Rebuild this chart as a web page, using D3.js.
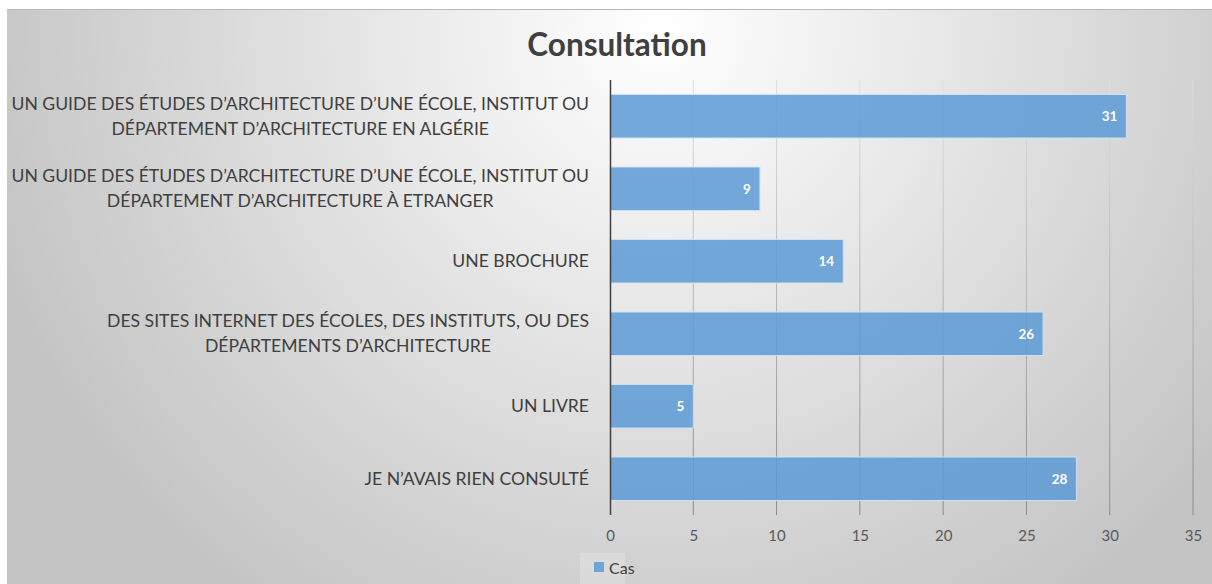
<!DOCTYPE html>
<html>
<head>
<meta charset="utf-8">
<script src="https://cdn.jsdelivr.net/npm/d3@7"></script>
<style>
  body { margin: 0; background: #fff; }
  text { font-family: Lato, "Open Sans", sans-serif; }
</style>
</head>
<body>
<script>
// data, top to bottom
var categories = [
  ["UN GUIDE DES ÉTUDES D’ARCHITECTURE D’UNE ÉCOLE, INSTITUT OU", "DÉPARTEMENT D’ARCHITECTURE EN ALGÉRIE"],
  ["UN GUIDE DES ÉTUDES D’ARCHITECTURE D’UNE ÉCOLE, INSTITUT OU", "DÉPARTEMENT D’ARCHITECTURE À ETRANGER"],
  ["UNE BROCHURE"],
  ["DES SITES INTERNET DES ÉCOLES, DES INSTITUTS, OU DES", "DÉPARTEMENTS D’ARCHITECTURE"],
  ["UN LIVRE"],
  ["JE N’AVAIS RIEN CONSULTÉ"]
];
var values = [31, 9, 14, 26, 5, 28];
var xTicks = [0, 5, 10, 15, 20, 25, 30, 35];
var seriesName = "Cas";

var W = 1212, H = 584;
var svg = d3.select('body').append('svg')
  .attr('width', W)
  .attr('height', H);

var defs = svg.append('defs');
var bg = defs.append('radialGradient')
  .attr('id', 'bg')
  .attr('gradientUnits', 'userSpaceOnUse')
  .attr('cx', 660).attr('cy', 30).attr('r', 700);
bg.append('stop').attr('offset', '0').attr('stop-color', '#ffffff');
bg.append('stop').attr('offset', '1').attr('stop-color', '#c4c4c4');

var gridGrad = defs.append('linearGradient')
  .attr('id', 'grid')
  .attr('gradientUnits', 'userSpaceOnUse')
  .attr('x1', 0).attr('y1', 80).attr('x2', 0).attr('y2', 515);
gridGrad.append('stop').attr('offset', '0').attr('stop-color', '#e0e0e0');
gridGrad.append('stop').attr('offset', '1').attr('stop-color', '#8a8a8a');

// chart area
svg.append('rect')
  .attr('x', 7).attr('y', 9)
  .attr('width', W - 7).attr('height', H - 9)
  .attr('fill', 'url(#bg)');
svg.append('line')
  .attr('x1', 7).attr('x2', W).attr('y1', 9.5).attr('y2', 9.5)
  .attr('stroke', '#b8b8b8');

// title
svg.append('text')
  .attr('x', 617).attr('y', 56)
  .attr('text-anchor', 'middle')
  .attr('font-size', 31.5)
  .attr('font-weight', 'bold')
  .attr('fill', '#404040')
  .text('Consultation');

var x = d3.scaleLinear().domain([0, 35]).range([610, 1193]);
var y = d3.scaleBand()
  .domain(d3.range(categories.length))
  .range([80, 515])
  .paddingInner(0.4)
  .paddingOuter(0.2);

// gridlines
svg.append('g')
  .selectAll('line')
  .data(xTicks.slice(1))
  .enter().append('line')
  .attr('x1', function(d) { return x(d); })
  .attr('x2', function(d) { return x(d); })
  .attr('y1', 80).attr('y2', 515)
  .attr('stroke', 'url(#grid)')
  .attr('stroke-width', 1);

// bars
svg.append('g')
  .selectAll('rect')
  .data(values)
  .enter().append('rect')
  .attr('x', x(0))
  .attr('y', function(d, i) { return y(i); })
  .attr('width', function(d) { return x(d) - x(0); })
  .attr('height', y.bandwidth())
  .attr('fill', '#5b9bd5')
  .attr('fill-opacity', 0.85)
  .attr('stroke', '#cfe0f0')
  .attr('stroke-width', 1);

// value labels
svg.append('g')
  .selectAll('text')
  .data(values)
  .enter().append('text')
  .attr('x', function(d) { return x(d) - 9; })
  .attr('y', function(d, i) { return y(i) + y.bandwidth() / 2 + 5; })
  .attr('text-anchor', 'end')
  .attr('font-size', 13.5)
  .attr('font-weight', 'bold')
  .attr('fill', '#ffffff')
  .text(function(d) { return d; });

// y axis line
svg.append('line')
  .attr('x1', 610.5).attr('x2', 610.5)
  .attr('y1', 80).attr('y2', 515)
  .attr('stroke', '#404040')
  .attr('stroke-width', 1.5);

// x axis tick labels
var xAxis = d3.axisBottom(x).tickValues(xTicks).tickSize(0).tickPadding(0);
var gx = svg.append('g')
  .attr('transform', 'translate(0,541)')
  .call(xAxis);
gx.select('.domain').remove();
gx.selectAll('text')
  .attr('dy', 0)
  .attr('font-size', 15)
  .attr('fill', '#595959')
  .style('font-family', 'Lato, "Open Sans", sans-serif');

// category labels: block right-aligned, lines centred inside it
var labelRight = 589, lineH = 25;
var gl = svg.append('g');
categories.forEach(function(lines, i) {
  var cy = y(i) + y.bandwidth() / 2;
  var g = gl.append('g');
  var texts = lines.map(function(s, j) {
    return g.append('text')
      .attr('font-size', 17.6)
      .attr('fill', '#404040')
      .attr('text-anchor', 'middle')
      .attr('y', cy + (j - (lines.length - 1) / 2) * lineH + 6)
      .text(s);
  });
  var maxW = d3.max(texts, function(t) { return t.node().getComputedTextLength(); });
  texts.forEach(function(t) { t.attr('x', labelRight - maxW / 2); });
});

// legend
svg.append('rect')
  .attr('x', 580).attr('y', 553)
  .attr('width', 45).attr('height', 31)
  .attr('fill', '#ffffff').attr('fill-opacity', 0.2);
svg.append('rect')
  .attr('x', 594).attr('y', 562)
  .attr('width', 10).attr('height', 10)
  .attr('fill', '#5b9bd5').attr('fill-opacity', 0.85);
svg.append('text')
  .attr('x', 609).attr('y', 574)
  .attr('font-size', 16)
  .attr('fill', '#404040')
  .text(seriesName);
</script>
</body>
</html>
